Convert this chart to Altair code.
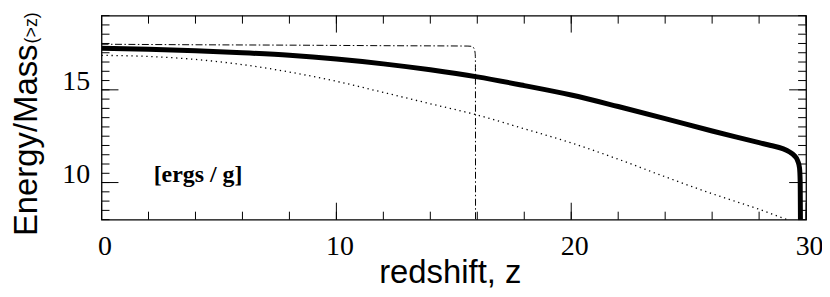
import altair as alt
import pandas as pd

# ---- data ----
z_thick = [0, 2, 4, 6, 8, 10, 12, 14, 16, 18, 20, 22, 24, 26, 27, 28, 28.5, 29, 29.3, 29.5, 29.65, 29.72, 29.75, 29.76]
e_thick = [17.24, 17.19, 17.11, 17.0, 16.86, 16.66, 16.4, 16.08, 15.7, 15.23, 14.72, 14.1, 13.45, 12.78, 12.46, 12.15, 12.0, 11.83, 11.65, 11.45, 11.15, 10.8, 10.0, 8.0]

z_dashdot = [0, 4, 8, 12, 15.6, 15.78, 15.87, 15.91, 15.92, 15.925]
e_dashdot = [17.46, 17.43, 17.41, 17.38, 17.36, 17.34, 17.2, 16.95, 16.6, 8.0]

z_dotted = [0, 2, 4, 6, 8, 10, 12, 14, 16, 18, 20, 22, 24, 26, 27, 28, 29, 29.2]
e_dotted = [16.86, 16.8, 16.64, 16.36, 15.96, 15.46, 14.86, 14.25, 13.64, 12.9, 12.14, 11.26, 10.31, 9.4, 8.98, 8.56, 8.09, 8.0]

x_label_values = [0, 10, 20, 30]
y_label_values = [10, 15]
x_minor_ticks = [0, 2, 4, 6, 8, 10, 12, 14, 16, 18, 20, 22, 24, 26, 28, 30]
x_major_ticks = [0, 10, 20, 30]
y_minor_ticks = [8, 8.5, 9, 9.5, 10, 10.5, 11, 11.5, 12, 12.5, 13, 13.5, 14, 14.5,
                 15, 15.5, 16, 16.5, 17, 17.5, 18, 18.5, 19]
y_major_ticks = [10, 15]

x_title = "redshift, z"
y_title = "Energy/Mass"
y_title_sub = "(>z)"
unit_text = "[ergs / g]"

# ---- chart ----
W, H = 708, 205
xs = alt.Scale(domain=[0, 30], nice=False, zero=False)
ys = alt.Scale(domain=[8, 19], nice=False, zero=False)

df_thick = pd.DataFrame({"z": z_thick, "e": e_thick})
df_dd = pd.DataFrame({"z": z_dashdot, "e": e_dashdot})
df_dot = pd.DataFrame({"z": z_dotted, "e": e_dotted})

x_axis = alt.Axis(values=x_label_values, ticks=False, tickSize=0, domain=False, grid=False,
                  labelFont="Liberation Serif", labelFontSize=28, labelColor="black",
                  labelBaseline="alphabetic", labelPadding=35, labelFlush=False,
                  labelOverlap=False, labelOffset=3, format="d",
                  title=x_title, titleFont="Liberation Sans", titleFontSize=33,
                  titleFontWeight="normal", titleColor="black", titleX=350, titleY=63,
                  titleBaseline="alphabetic", titleAlign="center")
y_axis = alt.Axis(values=y_label_values, ticks=False, tickSize=0, domain=False, grid=False,
                  labelFont="Liberation Serif", labelFontSize=28, labelColor="black",
                  labelBaseline="alphabetic", labelAlign="right", labelPadding=12,
                  labelFlush=False, labelOverlap=False, format="d",
                  title=y_title, titleFont="Liberation Sans", titleFontSize=33,
                  titleFontWeight="normal", titleColor="black", titleAngle=270,
                  titleX=-65, titleY=221, titleAlign="left", titleBaseline="alphabetic")

X = lambda f: alt.X(f, scale=xs, axis=x_axis)
Y = lambda f: alt.Y(f, scale=ys, axis=y_axis)

thick = alt.Chart(df_thick).mark_line(color="black", strokeWidth=5, clip=True,
                                      interpolate="monotone").encode(
    x=X("z:Q"), y=Y("e:Q"), order="z:Q")
dashdot = alt.Chart(df_dd).mark_line(color="black", strokeWidth=1, clip=True,
                                     strokeDash=[7, 2.5, 1.5, 2.5],
                                     interpolate="monotone").encode(
    x=X("z:Q"), y=Y("e:Q"), order="z:Q")
dotted = alt.Chart(df_dot).mark_line(color="black", strokeWidth=1.3, clip=True,
                                     strokeDash=[1.3, 3.7],
                                     interpolate="monotone").encode(
    x=X("z:Q"), y=Y("e:Q"), order="z:Q")

df_xmin = pd.DataFrame({"v": x_minor_ticks})
df_xmaj = pd.DataFrame({"v": x_major_ticks})
df_ymin = pd.DataFrame({"v": y_minor_ticks})
df_ymaj = pd.DataFrame({"v": y_major_ticks})

def xticks(df, y0, y1):
    return alt.Chart(df).mark_rule(color="black", strokeWidth=1).encode(
        x=X("v:Q"), y=alt.value(y0), y2=alt.value(y1))

def yticks(df, x0, x1):
    return alt.Chart(df).mark_rule(color="black", strokeWidth=1).encode(
        y=Y("v:Q"), x=alt.value(x0), x2=alt.value(x1))

ticks = [
    xticks(df_xmin, H, H - 8), xticks(df_xmin, 0, 8),
    xticks(df_xmaj, H, H - 17), xticks(df_xmaj, 0, 17),
    yticks(df_ymin, 0, 8), yticks(df_ymin, W, W - 8),
    yticks(df_ymaj, 0, 17), yticks(df_ymaj, W, W - 17),
]

sub = alt.Chart(pd.DataFrame({"t": [y_title_sub]})).mark_text(
    font="Liberation Sans", fontSize=18, color="black", angle=270,
    align="left", baseline="alphabetic").encode(
    text="t:N", x=alt.value(-65), y=alt.value(28))

unit = alt.Chart(pd.DataFrame({"t": [unit_text]})).mark_text(
    font="Liberation Serif", fontSize=24, fontWeight="bold", color="black",
    align="center", baseline="alphabetic").encode(
    text="t:N", x=alt.value(97), y=alt.value(167))

chart = alt.layer(thick, dashdot, dotted, *ticks, sub, unit).properties(
    width=W, height=H,
    autosize=alt.AutoSizeParams(type="none"),
    padding={"left": 94, "top": 7, "right": 16, "bottom": 69},
    background="white",
).configure_view(stroke="black", strokeWidth=1.3)

chart.save("out.html", embed_options={"renderer": "svg", "actions": False})
